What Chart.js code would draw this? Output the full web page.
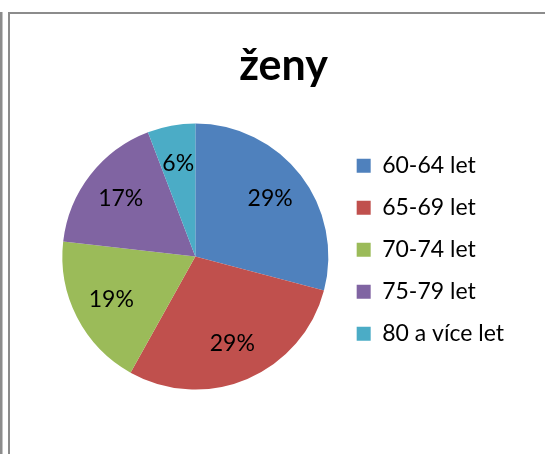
<!DOCTYPE html>
<html>
<head>
<meta charset="utf-8">
<script src="https://cdn.jsdelivr.net/npm/chart.js@4.4.0/dist/chart.umd.min.js"></script>
<style>
    html, body { margin: 0; padding: 0; background: #fff; }
    body { width: 545px; height: 454px; overflow: hidden; position: relative; }
    .edge { position: absolute; left: 0; top: 12px; bottom: 0; width: 2px; background: #8c8c8c; border-right: 1px solid #c4c4c4; }
    .frame { position: absolute; left: 8px; top: 12px; right: 0; bottom: 0; border-left: 2px solid #8c8c8c; border-top: 2px solid #8c8c8c; }
    .chart-box { position: absolute; left: 0; top: 0; width: 535px; height: 440px; }
</style>
</head>
<body>
<div class="edge"></div>
<div class="frame">
    <div class="chart-box"><canvas id="pieChart"></canvas></div>
</div>
<script>
const chartTitle = 'ženy';
const categories = ['60-64 let', '65-69 let', '70-74 let', '75-79 let', '80 a více let'];
const shares = [29.1, 29.0, 18.7, 17.4, 5.8];
const sliceColors = ['#4F81BD', '#C0504D', '#9BBB59', '#8064A2', '#4BACC6'];

// percentage labels inside the slices (no datalabels plugin offline)
const pctLabels = {
    id: 'pctLabels',
    afterDatasetsDraw(chart) {
        const ctx = chart.ctx;
        const meta = chart.getDatasetMeta(0);
        const total = shares.reduce((a, b) => a + b, 0);
        ctx.save();
        ctx.font = '23px Lato';
        ctx.fillStyle = '#000';
        ctx.textAlign = 'center';
        ctx.textBaseline = 'middle';
        meta.data.forEach((arc, i) => {
            const p = arc.getProps(['x', 'y', 'startAngle', 'endAngle', 'outerRadius'], true);
            const mid = (p.startAngle + p.endAngle) / 2;
            const r = p.outerRadius * 0.71;
            const txt = Math.round(shares[i] / total * 100) + '%';
            ctx.fillText(txt, p.x + Math.cos(mid) * r, p.y + Math.sin(mid) * r);
        });
        ctx.restore();
    }
};

document.addEventListener('DOMContentLoaded', () => {
    const ctx = document.getElementById('pieChart');
    new Chart(ctx, {
        type: 'pie',
        data: {
            labels: categories,
            datasets: [{
                data: shares,
                backgroundColor: sliceColors,
                borderWidth: 0
            }]
        },
        options: {
            responsive: true,
            maintainAspectRatio: false,
            animation: false,
            events: [],
            layout: {
                padding: { left: 43, top: 0, right: 31, bottom: 64.5 }
            },
            plugins: {
                title: {
                    display: true,
                    text: chartTitle,
                    color: '#000',
                    font: { family: 'Lato', size: 43, weight: 'bold', lineHeight: 1.2 },
                    padding: { top: 26, bottom: 31.9 }
                },
                legend: {
                    position: 'right',
                    align: 'start',
                    fullSize: false,
                    title: {
                        display: true,
                        text: '',
                        font: { size: 9.75 },
                        padding: 0
                    },
                    labels: {
                        boxWidth: 14,
                        boxHeight: 14,
                        padding: 19,
                        color: '#000',
                        font: { family: 'Lato', size: 23 }
                    }
                },
                tooltip: { enabled: false }
            }
        },
        plugins: [pctLabels]
    });
});
</script>
</body>
</html>
